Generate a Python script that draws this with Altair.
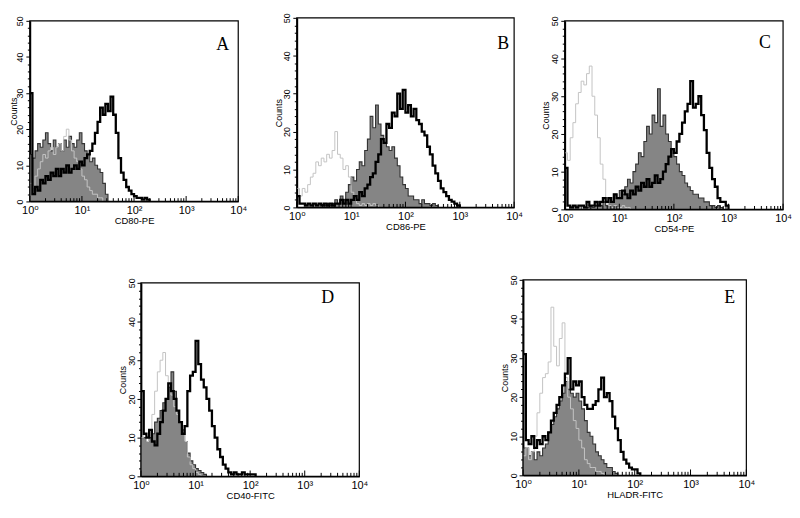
import altair as alt
import pandas as pd

# channel width of the histograms, in decades of fluorescence
STEP = 0.05

# ---------------- data (counts per channel) ----------------
# Panel A: CD80-PE
A_FILL_START, A_LIGHT_START, A_BLACK_START = 0.0, 0.0, 0.0
A_FILL = [13, 12, 14, 16, 15, 17, 19, 16, 14, 17, 15, 16, 14, 17, 15, 18, 16, 15, 17, 19,
          16, 14, 13, 11, 12, 10, 9, 8, 5, 2, 0]
A_LIGHT = [5, 4, 7, 9, 11, 13, 12, 14, 15, 13, 15, 16, 14, 18, 20, 17, 14, 12, 11, 9,
           7, 6, 4, 3, 2, 2, 1, 1, 0]
A_BLACK = [30, 2, 4, 3, 6, 5, 7, 6, 8, 7, 9, 7, 9, 8, 10, 8, 9, 10, 9, 11,
           10, 12, 13, 14, 16, 19, 22, 26, 24, 27, 25, 29, 24, 19, 12, 8, 6, 4, 3, 2,
           1.5, 1, 1, 0.5, 1, 0.5, 0]

# Panel B: CD86-PE
B_FILL_START, B_LIGHT_START, B_BLACK_START = 0.5, 0.0, 0.0
B_FILL = [0.5, 1, 0.5, 1, 2, 1, 3, 2, 4, 6, 8, 7, 10, 12, 11, 15, 18, 24, 21, 27,
          22, 19, 17, 16, 15, 16, 13, 11, 8, 6, 5, 3, 3, 2, 2, 1, 2, 1, 1, 0.5,
          1, 0.5, 0]
B_LIGHT = [5, 3, 5, 4, 6, 8, 9, 12, 11, 13, 12, 14, 13, 15, 20, 14, 13, 10, 11, 8,
           4, 2, 1, 0.5, 1, 0.5, 1, 0.5, 1, 0.5, 0]
B_BLACK = [3, 1, 1, 0.5, 1, 0.5, 1, 0.5, 1, 0.5, 1, 0.5, 1, 0.5, 1, 1, 2, 1, 2, 1,
           2, 3, 2, 4, 3, 5, 6, 8, 9, 12, 14, 18, 17, 22, 21, 25, 24, 30, 26, 31,
           25, 27, 24, 26, 23, 22, 20, 19, 16, 14, 11, 9, 7, 5, 4, 3, 2, 1.5, 1, 0.5, 0]

# Panel C: CD54-PE
C_FILL_START, C_LIGHT_START, C_BLACK_START = 0.4, 0.0, 0.0
C_FILL = [0.5, 1, 0.5, 1, 2, 1, 2, 1, 3, 2, 4, 3, 5, 4, 6, 8, 7, 10, 12, 15,
          14, 18, 22, 20, 25, 23, 32, 22, 25, 20, 18, 16, 14, 12, 10, 9, 7, 6, 5, 4,
          4, 3, 3, 2, 2, 1, 1, 0.5, 1, 0.5, 0]
C_LIGHT = [15, 13, 19, 23, 28, 31, 34, 33, 36, 38, 30, 25, 19, 12, 8, 3, 1, 0.5, 1, 0.5,
           0.5, 1, 0.5, 0.5, 0]
C_BLACK = [11, 1, 0.5, 1, 0.5, 1, 1, 0.5, 2, 1, 1, 2, 1, 2, 3, 2, 3, 2, 4, 3,
           3, 5, 4, 3, 5, 4, 6, 5, 7, 6, 8, 6, 7, 9, 7, 8, 10, 12, 14, 16,
           15, 18, 20, 23, 26, 28, 34, 27, 28, 30, 25, 21, 15, 11, 8, 6, 3, 2, 2, 1, 0]

# Panel D: CD40-FITC
D_FILL_START, D_LIGHT_START, D_BLACK_START = 0.0, 0.0, 0.0
D_FILL = [10, 10, 9, 10, 11, 14, 15, 17, 19, 20, 23, 27, 22, 17, 14, 12, 9, 6, 4, 3,
          2, 1.5, 1, 0.5, 0]
D_LIGHT = [10, 11, 9, 12, 16, 22, 27, 30, 32, 26, 24, 21, 18, 16, 14, 11, 9, 5, 3, 2,
           1, 0.5, 0]
D_BLACK = [22, 11, 10, 12, 9, 8, 11, 14, 17, 20, 24, 22, 20, 17, 14, 11, 13, 22, 26, 27,
           35, 29, 25, 23, 20, 17, 13, 10, 7, 5, 3, 2, 1, 0.5, 1, 0.5, 0.5, 1, 0.5, 0.5,
           0.5, 0.5, 0]

# Panel E: HLADR-FITC
E_FILL_START, E_LIGHT_START, E_BLACK_START = 0.0, 0.0, 0.0
E_FILL = [7, 7, 5, 6, 4, 6, 5, 7, 8, 11, 13, 15, 17, 19, 21, 24, 22, 21, 20, 21,
          19, 17, 14, 11, 10, 8, 6, 5, 4, 3, 2, 2, 1, 0.5, 0]
E_LIGHT = [5, 7, 4, 6, 10, 16, 21, 25, 26, 29, 43, 33, 28, 35, 39, 25, 20, 17, 14, 12,
           9, 7, 4, 3, 2, 2, 1, 1, 0.5, 0]
E_BLACK = [31, 9, 8, 10, 7, 9, 8, 10, 9, 11, 14, 16, 18, 20, 23, 26, 30, 22, 24, 23,
           24, 20, 18, 17, 17, 18, 19, 22, 25, 20, 21, 19, 15, 12, 9, 6, 4, 3, 2, 1.5,
           1.5, 0.5, 0]

TITLES = ["CD80-PE", "CD86-PE", "CD54-PE", "CD40-FITC", "HLADR-FITC"]
LETTERS = ["A", "B", "C", "D", "E"]
LETTER_LOGX = [3.70, 3.80, 3.67, 3.42, 3.70]
LETTER_Y = [43.4, 43.2, 44.0, 46.0, 45.4]
X_DECADES = [1, 10, 100, 1000, 10000]
Y_TICKS = list(range(0, 51, 2))

# ---------------- layout (plot rectangles in chart pixels) ----------------
W, H = 790, 502
X_RANGES = [[22, 232], [291, 510], [561, 781], [134, 354], [519, 744]]
Y_RANGES = [[193, 11], [199, 8], [201, 11], [470, 275], [469, 272]]
COUNTS_TITLE_X = [-16.5, -18, -19, -19, -19]

SANS = "Arial, Liberation Sans, DejaVu Sans"
SERIF = "Times New Roman, Liberation Serif, DejaVu Serif"

X_LABELS = ("datum.value == 1 ? '10\u2070' : datum.value == 10 ? '10\u00b9' : "
            "datum.value == 100 ? '10\u00b2' : datum.value == 1000 ? '10\u00b3' : '10\u2074'")


def hist_df(values, start):
    return pd.DataFrame({"x": [10 ** (start + i * STEP) for i in range(len(values))],
                         "y": values})


def make_panel(i, fill, fs, light, ls, black, bs):
    xr, yr = X_RANGES[i], Y_RANGES[i]
    xs = alt.Scale(type="log", domain=[1, 10000], range=xr, nice=False)
    ys = alt.Scale(domain=[0, 50], range=yr, nice=False)
    xax = alt.Axis(orient="bottom", offset=yr[0] - H, values=X_DECADES, labelExpr=X_LABELS,
                   ticks=False, grid=False, title=TITLES[i], domainColor="black",
                   domainWidth=1.3, labelFont=SANS, labelFontSize=11, labelColor="black",
                   labelPadding=3, labelFlush=False, labelOverlap=False,
                   titleFont=SANS, titleFontSize=9.5, titleFontWeight="normal",
                   titleColor="black", titlePadding=0)
    yax = alt.Axis(orient="left", offset=-xr[0], values=Y_TICKS,
                   labelExpr="datum.value % 10 == 0 ? datum.label : ''",
                   tickSize={"condition": {"test": "datum.value % 10 == 0", "value": 4},
                             "value": 2.5},
                   tickColor="black", tickWidth=1, grid=False, domainColor="black",
                   domainWidth=1.8, labelAngle=270, labelAlign="center",
                   labelBaseline="bottom", labelFont=SANS, labelFontSize=9,
                   labelColor="black", labelPadding=1, labelOverlap=False,
                   labelFlush=False, title="Counts", titleFont=SANS, titleFontSize=9,
                   titleFontWeight="normal", titleColor="black",
                   titleX=COUNTS_TITLE_X[i], titleBaseline="middle", titleAlign="center")
    X = alt.X("x:Q", scale=xs, axis=xax)
    Y = alt.Y("y:Q", scale=ys, axis=yax)

    fill_df = hist_df(fill, fs)
    area = alt.Chart(fill_df).mark_area(interpolate="step-after", color="#858585").encode(x=X, y=Y)
    outline = alt.Chart(fill_df).mark_line(interpolate="step-after", color="#333333",
                                           strokeWidth=1.1).encode(x=X, y=Y)
    light_line = alt.Chart(hist_df(light, ls)).mark_line(
        interpolate="step-after", color="#c4c4c4", strokeWidth=1).encode(x=X, y=Y)
    black_line = alt.Chart(hist_df(black, bs)).mark_line(
        interpolate="step-after", color="black", strokeWidth=2.3).encode(x=X, y=Y)

    frame_df = pd.DataFrame({"x": [1], "x2": [10000], "y": [0], "y2": [50]})
    frame = alt.Chart(frame_df).mark_rect(fillOpacity=0, stroke="black",
                                          strokeWidth=1.2).encode(x=X, x2="x2", y=Y, y2="y2")

    tick_x, tick_h = [], []
    for d in X_DECADES:
        tick_x.append(d)
        tick_h.append(1.5)
        if d < 10000:
            for m in range(2, 10):
                tick_x.append(d * m)
                tick_h.append(0.9)
    ticks_df = pd.DataFrame({"x": tick_x, "y": [0] * len(tick_x), "y2": tick_h})
    ticks = alt.Chart(ticks_df).mark_rule(color="black", strokeWidth=1).encode(
        x=X, y=Y, y2="y2")

    letter_df = pd.DataFrame({"x": [10 ** LETTER_LOGX[i]], "y": [LETTER_Y[i]],
                              "t": [LETTERS[i]]})
    letter = alt.Chart(letter_df).mark_text(font=SERIF, fontSize=18, color="black",
                                            align="center", baseline="middle").encode(
        x=X, y=Y, text="t:N")

    return alt.layer(area, outline, light_line, black_line, frame, ticks, letter)


panels = [
    make_panel(0, A_FILL, A_FILL_START, A_LIGHT, A_LIGHT_START, A_BLACK, A_BLACK_START),
    make_panel(1, B_FILL, B_FILL_START, B_LIGHT, B_LIGHT_START, B_BLACK, B_BLACK_START),
    make_panel(2, C_FILL, C_FILL_START, C_LIGHT, C_LIGHT_START, C_BLACK, C_BLACK_START),
    make_panel(3, D_FILL, D_FILL_START, D_LIGHT, D_LIGHT_START, D_BLACK, D_BLACK_START),
    make_panel(4, E_FILL, E_FILL_START, E_LIGHT, E_LIGHT_START, E_BLACK, E_BLACK_START),
]

chart = (
    alt.layer(*panels)
    .resolve_scale(x="independent", y="independent")
    .resolve_axis(x="independent", y="independent")
    .properties(width=W, height=H, padding=0, autosize=alt.AutoSizeParams(type="none"),
                background="white")
    .configure_view(stroke=None)
)

chart.save("out.html", embed_options={"renderer": "svg", "actions": False})
